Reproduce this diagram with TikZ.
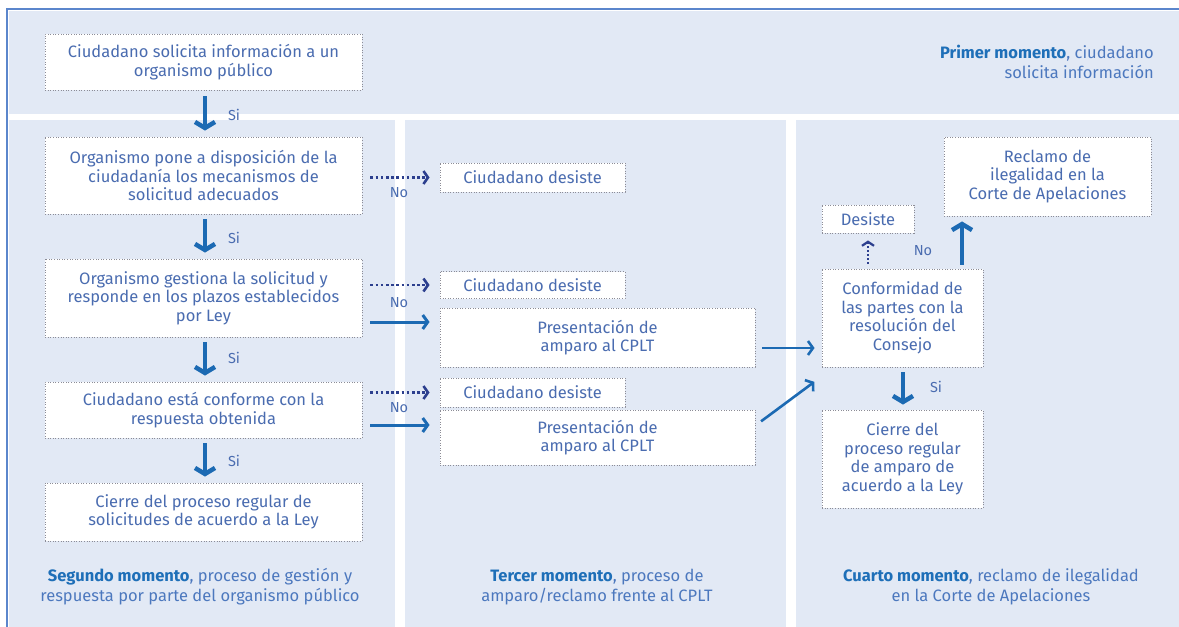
\documentclass[tikz,border=0pt]{standalone}
\usepackage{fontspec}
\setmainfont{Fira Sans}
\usetikzlibrary{arrows.meta,calc}
\definecolor{panelbg}{HTML}{E2E9F5}
\definecolor{framecol}{HTML}{5B86CC}
\definecolor{boxline}{HTML}{8C8C96}
\definecolor{boxtext}{HTML}{4A6CB0}
\definecolor{accent}{HTML}{1C6AB3}
\definecolor{navy}{HTML}{2C3F8E}
\definecolor{labelbold}{HTML}{1E6FB8}
\definecolor{labeltext}{HTML}{4C78BE}
\tikzset{
  box/.style={draw=boxline, line width=0.9pt, dash pattern=on 1pt off 1.6pt, fill=white,
    align=center, text=boxtext, font=\fontsize{16.5}{18.5}\selectfont, inner sep=0pt},
  siarrow/.style={draw=accent, line width=4.5pt, -{Straight Barb[length=6pt,width=20pt]}},
  solidarrow/.style={draw=accent, line width=3pt, -{Straight Barb[length=5pt,width=14pt]}},
  dotarrow/.style={draw=navy, line width=2.6pt, dash pattern=on 2.6pt off 2.6pt, -{Straight Barb[length=4.5pt,width=13pt]}},
  lbl/.style={text=boxtext, font=\fontsize{14.5}{16}\selectfont, inner sep=0pt},
  momento/.style={align=center, text=labeltext, font=\fontsize{16.5}{20}\selectfont, inner sep=0pt}
}
\begin{document}
\begin{tikzpicture}[x=1pt,y=-1pt]
\useasboundingbox (0,0) rectangle (1179,627);
\fill[white] (0,0) rectangle (1179,627);
% panels
\fill[panelbg] (9,11) rectangle (1179,114);
\fill[panelbg] (9,120) rectangle (395,627);
\fill[panelbg] (405,120) rectangle (786,627);
\fill[panelbg] (796,120) rectangle (1179,627);
\draw[framecol, line width=1.2pt] (7,627) -- (7,9) -- (1179,9);

% column 2
\node[box, minimum width=317, minimum height=56] (A) at (203.5,62) {Ciudadano solicita información a un\\organismo público};
\node[box, minimum width=317, minimum height=77] (B) at (203.5,175.5) {Organismo pone a disposición de la\\ciudadanía los mecanismos de\\solicitud adecuados};
\node[box, minimum width=317, minimum height=78] (C) at (203.5,298) {Organismo gestiona la solicitud y\\responde en los plazos establecidos\\por Ley};
\node[box, minimum width=317, minimum height=56] (D) at (203.5,410) {Ciudadano está conforme con la\\respuesta obtenida};
\node[box, minimum width=317, minimum height=58] (E) at (203.5,512) {Cierre del proceso regular de\\solicitudes de acuerdo a la Ley};

\draw[siarrow, shorten <=6pt, shorten >=6pt] (A.south -| 205,0) -- (B.north -| 205,0);
\draw[siarrow, shorten <=5pt, shorten >=6pt] (B.south -| 205,0) -- (C.north -| 205,0);
\draw[siarrow, shorten <=5pt, shorten >=6pt] (C.south -| 205,0) -- (D.north -| 205,0);
\draw[siarrow, shorten <=5pt, shorten >=6pt] (D.south -| 205,0) -- (E.north -| 205,0);
\node[lbl] (s1) at (234,115) {Si};
\node[lbl] (s2) at (234,238) {Si};
\node[lbl] (s3) at (234,358) {Si};
\node[lbl] (s4) at (234,461) {Si};

% column 3
\node[box, minimum width=185, minimum height=29] (d1) at (532.5,177.5) {Ciudadano desiste};
\node[box, minimum width=185, minimum height=27] (d2) at (532.5,285) {Ciudadano desiste};
\node[box, minimum width=315, minimum height=59] (p1) at (597.5,337.5) {Presentación de\\amparo al CPLT};
\node[box, minimum width=185, minimum height=29] (d3) at (532.5,392.5) {Ciudadano desiste};
\node[box, minimum width=315, minimum height=55] (p2) at (597.5,437.5) {Presentación de\\amparo al CPLT};

\draw[dotarrow, shorten <=8pt, shorten >=10pt] (B.east |- d1) -- (d1.west);
\draw[dotarrow, shorten <=8pt, shorten >=10pt] (C.east |- d2) -- (d2.west);
\draw[solidarrow, shorten <=8pt, shorten >=10pt] (C.east |- 0,322) -- (p1.west |- 0,322);
\draw[dotarrow, shorten <=8pt, shorten >=10pt] (D.east |- d3) -- (d3.west);
\draw[solidarrow, shorten <=8pt, shorten >=10pt] (D.east |- 0,425) -- (p2.west |- 0,425);
\node[lbl] (n1) at (399,193) {No};
\node[lbl] (n2) at (399,303) {No};
\node[lbl] (n3) at (399,408) {No};

% column 4
\node[box, minimum width=207, minimum height=79] (R) at (1047.5,176.5) {Reclamo de\\ilegalidad en la\\Corte de Apelaciones};
\node[box, minimum width=92, minimum height=28] (ds) at (868,219) {Desiste};
\node[box, minimum width=161, minimum height=98] (K) at (902.5,318) {Conformidad de\\las partes con la\\resolución del\\Consejo};
\node[box, minimum width=161, minimum height=98] (Z) at (902.5,459) {Cierre del\\proceso regular\\de amparo de\\acuerdo a la Ley};

\draw[siarrow, shorten <=4pt, shorten >=5pt] (K.north -| 962,0) -- (R.south -| 962,0);
\draw[dotarrow, line width=2.2pt, dash pattern=on 2pt off 2pt, shorten <=5pt, shorten >=7pt, -{Straight Barb[length=4pt,width=12pt]}] (K.north -| ds) -- (ds.south);
\node[lbl] (n4) at (923,251) {No};
\draw[siarrow, shorten <=5pt, shorten >=5pt] (K.south -| 903,0) -- (Z.north -| 903,0);
\node[lbl] (s5) at (936,387) {Si};
\draw[solidarrow, line width=2.6pt, shorten <=7pt, shorten >=7pt] (p1.east |- 0,348) -- (K.west |- 0,348);
\draw[solidarrow, line width=2.6pt, shorten <=7pt, shorten >=4pt] ($(p2.east)+(0,-12)$) -- ($(K.south west)+(-4,12)$);

% momento labels
\node[momento, anchor=east, align=right] (m1) at (1154,62) {\textbf{\color{labelbold}Primer momento}, ciudadano\\solicita información};
\node[momento] (m2) at (200,587) {\textbf{\color{labelbold}Segundo momento}, proceso de gestión y\\respuesta por parte del organismo público};
\node[momento] (m3) at (597,587) {\textbf{\color{labelbold}Tercer momento}, proceso de\\amparo/reclamo frente al CPLT};
\node[momento] (m4) at (991,587) {\textbf{\color{labelbold}Cuarto momento}, reclamo de ilegalidad\\en la Corte de Apelaciones};
\end{tikzpicture}
\end{document}
